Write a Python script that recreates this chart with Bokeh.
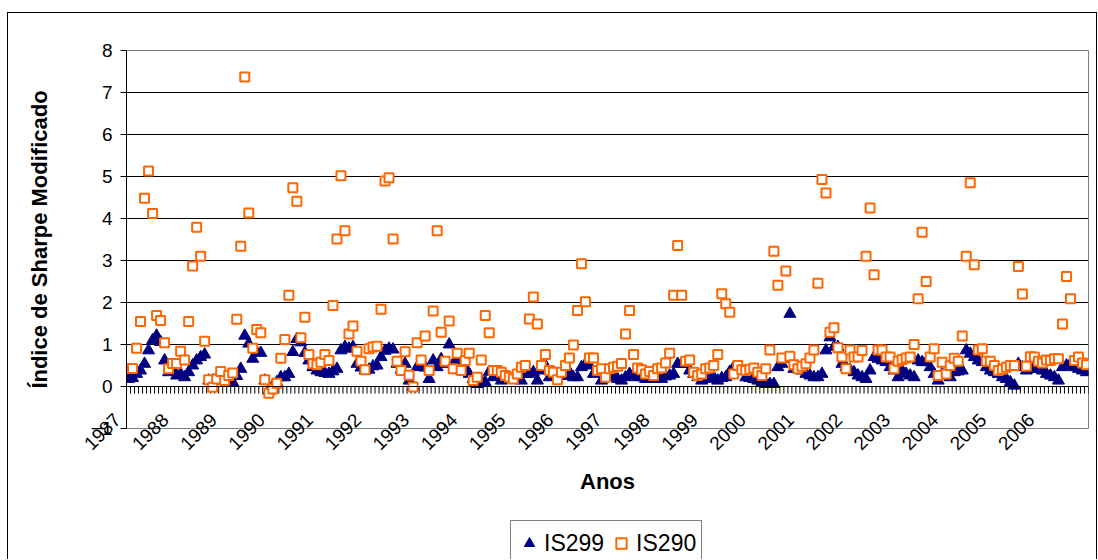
import numpy as np
from bokeh.plotting import figure
from bokeh.layouts import column
from bokeh.models import (Range1d, FixedTicker, ColumnDataSource, Legend,
                          LegendItem, Span)
from bokeh.embed import file_html
from bokeh.resources import INLINE
from math import pi

# ---- data (monthly, Jan 1987 .. Dec 2006) ----
years = [str(y) for y in range(1987, 2007)]

is299 = [
    0.18, 0.20, 0.30, 0.38, 0.54, 0.86, 1.10, 1.21, 1.06, 0.62, 0.34, 0.38,
    0.26, 0.30, 0.22, 0.34, 0.50, 0.62, 0.70, 0.76, 0.14, 0.14, 0.18, 0.14,
    0.16, 0.12, 0.10, 0.25, 0.42, 1.21, 1.02, 0.66, 0.82, 0.80, 0.14, -0.10,
    0.02, 0.10, 0.22, 0.22, 0.30, 0.82, 1.13, 1.05, 0.80, 0.62, 0.46, 0.38,
    0.34, 0.32, 0.30, 0.36, 0.42, 0.86, 0.94, 0.90, 0.94, 0.54, 0.45, 0.38,
    0.40, 0.48, 0.50, 0.70, 0.85, 0.90, 0.88, 0.54, 0.40, 0.54, 0.14, 0.00,
    0.46, 0.50, 0.45, 0.18, 0.62, 0.46, 0.65, 0.54, 1.00, 0.54, 0.62, 0.38,
    0.46, 0.30, 0.18, 0.06, 0.14, 0.10, 0.35, 0.22, 0.30, 0.14, 0.25, 0.20,
    0.22, 0.25, 0.14, 0.30, 0.30, 0.34, 0.14, 0.38, 0.50, 0.22, 0.34, 0.25,
    0.30, 0.25, 0.34, 0.22, 0.22, 0.46, 0.54, 0.50, 0.30, 0.38, 0.14, 0.22,
    0.30, 0.22, 0.18, 0.14, 0.22, 0.30, 0.26, 0.22, 0.22, 0.18, 0.20, 0.18,
    0.22, 0.18, 0.24, 0.26, 0.30, 0.54, 0.54, 0.54, 0.38, 0.30, 0.22, 0.14,
    0.18, 0.20, 0.22, 0.14, 0.20, 0.22, 0.35, 0.46, 0.40, 0.38, 0.22, 0.20,
    0.18, 0.14, 0.10, 0.06, 0.06, 0.06, 0.46, 0.54, 0.66, 1.73, 0.42, 0.42,
    0.38, 0.30, 0.26, 0.22, 0.22, 0.30, 0.86, 1.17, 0.94, 0.94, 0.54, 0.46,
    0.40, 0.34, 0.26, 0.22, 0.18, 0.38, 0.70, 0.66, 0.62, 0.58, 0.46, 0.38,
    0.22, 0.38, 0.30, 0.26, 0.22, 0.62, 0.58, 0.58, 0.46, 0.30, 0.14, 0.30,
    0.26, 0.22, 0.34, 0.36, 0.38, 0.86, 0.78, 0.70, 0.62, 0.58, 0.46, 0.38,
    0.34, 0.30, 0.22, 0.18, 0.10, 0.02, 0.54, 0.46, 0.38, 0.42, 0.46, 0.42,
    0.38, 0.30, 0.26, 0.22, 0.14, 0.46, 0.50, 0.54, 0.46, 0.42, 0.38, 0.34,
]

is290 = [
    0.43, 0.43, 0.91, 1.55, 4.48, 5.13, 4.12, 1.69, 1.57, 1.04, 0.42, 0.55,
    0.55, 0.84, 0.63, 1.55, 2.87, 3.79, 3.10, 1.08, 0.16, -0.02, 0.18, 0.36,
    0.14, 0.26, 0.32, 1.60, 3.34, 7.37, 4.13, 0.91, 1.36, 1.28, 0.16, -0.16,
    -0.06, 0.08, 0.67, 1.12, 2.17, 4.73, 4.41, 1.16, 1.65, 0.76, 0.54, 0.52,
    0.58, 0.76, 0.62, 1.93, 3.51, 5.02, 3.71, 1.25, 1.44, 0.84, 0.60, 0.40,
    0.90, 0.94, 0.96, 1.84, 4.89, 4.97, 3.51, 0.60, 0.38, 0.83, 0.27, -0.01,
    1.04, 0.63, 1.20, 0.38, 1.80, 3.71, 1.29, 0.60, 1.56, 0.42, 0.79, 0.38,
    0.62, 0.79, 0.14, 0.22, 0.63, 1.69, 1.28, 0.38, 0.38, 0.34, 0.26, 0.22,
    0.18, 0.30, 0.46, 0.50, 1.61, 2.13, 1.49, 0.50, 0.76, 0.38, 0.34, 0.16,
    0.34, 0.50, 0.68, 0.99, 1.81, 2.92, 2.02, 0.68, 0.68, 0.38, 0.42, 0.22,
    0.42, 0.46, 0.48, 0.55, 1.25, 1.81, 0.76, 0.44, 0.40, 0.30, 0.36, 0.26,
    0.42, 0.44, 0.56, 0.79, 2.17, 3.36, 2.17, 0.60, 0.63, 0.34, 0.26, 0.30,
    0.42, 0.44, 0.50, 0.76, 2.21, 1.97, 1.77, 0.30, 0.50, 0.40, 0.38, 0.41,
    0.44, 0.34, 0.26, 0.42, 0.87, 3.22, 2.41, 0.68, 2.75, 0.72, 0.52, 0.42,
    0.48, 0.54, 0.68, 0.87, 2.46, 4.93, 4.61, 1.29, 1.40, 0.92, 0.70, 0.42,
    0.87, 0.70, 0.70, 0.86, 3.10, 4.25, 2.66, 0.87, 0.87, 0.70, 0.70, 0.42,
    0.60, 0.64, 0.68, 0.70, 1.00, 2.09, 3.67, 2.50, 0.70, 0.90, 0.26, 0.58,
    0.30, 0.50, 0.67, 0.60, 1.20, 3.10, 4.85, 2.90, 0.87, 0.90, 0.60, 0.60,
    0.50, 0.38, 0.41, 0.46, 0.50, 0.50, 2.86, 2.20, 0.48, 0.71, 0.70, 0.60,
    0.56, 0.63, 0.62, 0.66, 0.66, 1.49, 2.62, 2.09, 0.62, 0.70, 0.56, 0.52,
]

y_ticks = list(range(-1, 9))

N = len(is299)
months = np.arange(N)
FONT = "Liberation Sans"
NAVY = "#000080"
ORANGE = "#FF6600"

p = figure(width=1088, height=502,
           x_range=Range1d(-0.5, N - 0.5), y_range=Range1d(-1, 8),
           output_backend="svg", toolbar_location=None,
           min_border_left=118, min_border_top=37, min_border_right=8,
           min_border_bottom=87)
p.outline_line_color = "#808080"
p.outline_line_width = 1
p.background_fill_color = "white"
p.border_fill_color = "white"

# y axis
p.yaxis.ticker = FixedTicker(ticks=y_ticks)
p.yaxis.major_label_text_font = FONT
p.yaxis.major_label_text_font_size = "19px"
p.yaxis.major_label_text_color = "black"
p.yaxis.major_tick_out = 6
p.yaxis.major_tick_in = 0
p.yaxis.minor_tick_line_color = None
p.yaxis.axis_line_color = "black"
p.yaxis.major_tick_line_color = "black"
p.yaxis.major_label_standoff = 8
p.yaxis.axis_label = "Índice de Sharpe Modificado"
p.yaxis.axis_label_text_font = FONT
p.yaxis.axis_label_text_font_style = "bold"
p.yaxis.axis_label_text_font_size = "22px"
p.yaxis.axis_label_text_color = "black"
p.yaxis.axis_label_standoff = 36

# x axis: rotated year labels (one every 12 months) + title
year_pos = [12 * k for k in range(len(years))]
pad = "\u00a0" * 3   # Excel draws the rotated labels slightly left of the month
p.xaxis.ticker = FixedTicker(ticks=year_pos)
p.xaxis.major_label_overrides = {pos: y + pad for pos, y in zip(year_pos, years)}
p.xaxis.major_label_orientation = pi / 4
p.xaxis.major_label_text_font = FONT
p.xaxis.major_label_text_font_size = "19px"
p.xaxis.major_label_text_color = "black"
p.xaxis.major_label_standoff = -23
p.xaxis.major_tick_out = 0
p.xaxis.major_tick_in = 0
p.xaxis.axis_line_color = None
p.xaxis.major_tick_line_color = None
p.xaxis.minor_tick_line_color = None
p.xaxis.axis_label = "Anos"
p.xaxis.axis_label_text_font = FONT
p.xaxis.axis_label_text_font_style = "bold"
p.xaxis.axis_label_text_font_size = "22px"
p.xaxis.axis_label_text_color = "black"
p.xaxis.axis_label_standoff = 5

p.xgrid.visible = False
p.ygrid.ticker = FixedTicker(ticks=[t for t in y_ticks if t > 0])
p.ygrid.grid_line_color = "black"
p.ygrid.grid_line_width = 1

# zero line with monthly category tick marks
p.add_layout(Span(location=0, dimension="width", line_color="black", line_width=1))
edges = np.arange(N + 1) - 0.5
p.segment(x0=edges, y0=np.zeros(N + 1), x1=edges, y1=np.full(N + 1, -0.17),
          line_color="black", line_width=1)

src = ColumnDataSource(dict(x=months, a=is299, b=is290))
p.scatter("x", "a", source=src, marker="triangle", size=12,
          fill_color=NAVY, line_color=NAVY)
p.scatter("x", "b", source=src, marker="square", size=9,
          fill_color="white", line_color=ORANGE, line_width=2)

# ---- legend strip below the chart (renderers hidden, only their legend glyphs show) ----
p2 = figure(width=1088, height=44, x_range=Range1d(0, 1), y_range=Range1d(0, 1),
            x_axis_type=None, y_axis_type=None, output_backend="svg",
            toolbar_location=None, min_border=0)
p2.outline_line_color = None
p2.background_fill_color = "white"
p2.border_fill_color = "white"
l1 = p2.scatter("x", "a", source=src, marker="triangle",
                fill_color=NAVY, line_color=NAVY, visible=False)
l2 = p2.scatter("x", "b", source=src, marker="square",
                fill_color="white", line_color=ORANGE, line_width=2, visible=False)
legend = Legend(items=[LegendItem(label="IS299", renderers=[l1]),
                       LegendItem(label="IS290", renderers=[l2])],
                orientation="horizontal", location=(384, -7),
                border_line_color="black", border_line_width=1,
                label_text_font=FONT, label_text_font_size="23px",
                label_text_color="black",
                glyph_width=26, glyph_height=26, label_standoff=2,
                label_height=34, spacing=4, padding=5, margin=0,
                inactive_fill_alpha=0,
                background_fill_color="white", background_fill_alpha=1)
p2.add_layout(legend)

layout = column(p, p2, spacing=0,
                styles={"border-top": "1px solid #000",
                        "border-left": "1px solid #000",
                        "border-right": "1px solid #000",
                        "margin-top": "12px", "margin-left": "7px"})

open("out.html", "w").write(file_html(layout, INLINE))
